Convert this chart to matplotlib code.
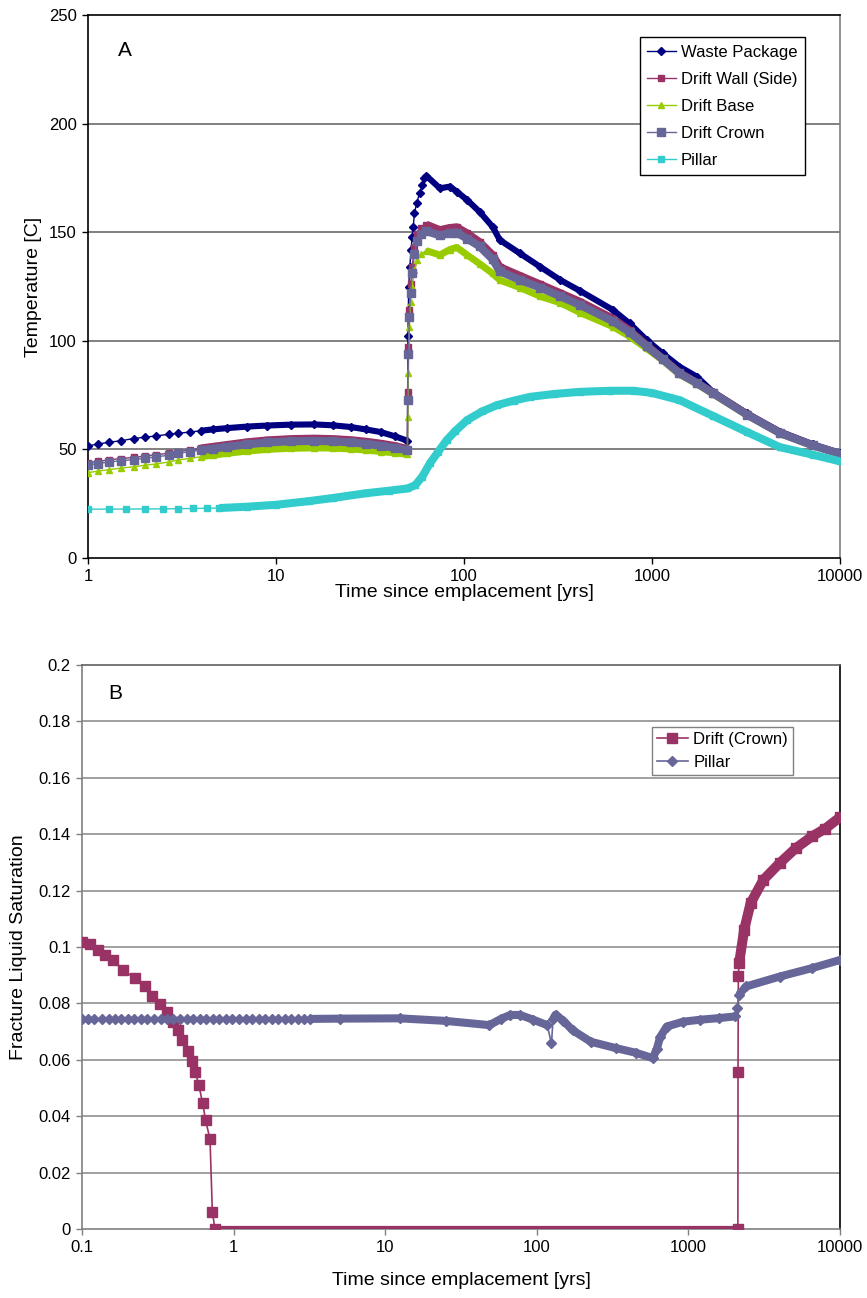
import numpy as np
import matplotlib
matplotlib.use('Agg')
import matplotlib.pyplot as plt
from matplotlib.ticker import FixedLocator, NullLocator

plt.rcParams['font.family'] = ['Liberation Sans', 'DejaVu Sans']

# ---------------- Panel A data ----------------
tA_early = [1, 1.13, 1.3, 1.5, 1.75, 2, 2.3, 2.7, 3, 3.5, 4, 4.6, 5.5, 7, 9, 12, 16, 20, 25, 30, 36, 43, 50]
wp_early = [51.6, 52.5, 53.3, 54.0, 55.0, 55.6, 56.2, 57.0, 57.4, 58.0, 58.6, 59.2, 59.8, 60.5, 61.0, 61.4, 61.5, 61.1, 60.3, 59.2, 58.0, 56.0, 54.0]
wall_early = [43.8, 44.5, 45.2, 45.8, 46.3, 46.9, 47.5, 48.3, 49.0, 49.8, 50.5, 51.2, 52.1, 53.3, 54.2, 54.8, 55.0, 54.8, 54.3, 53.6, 52.7, 51.6, 50.2]
base_early = [39.3, 40.0, 40.7, 41.4, 42.0, 42.7, 43.3, 44.2, 45.1, 45.9, 46.6, 47.3, 48.2, 49.2, 50.0, 50.5, 50.7, 50.6, 50.2, 49.7, 49.0, 48.4, 47.7]
crown_early = [42.8, 43.5, 44.2, 44.8, 45.3, 45.9, 46.5, 47.4, 48.2, 49.0, 49.7, 50.3, 51.2, 52.3, 53.2, 53.7, 53.9, 53.7, 53.2, 52.6, 51.7, 50.7, 49.5]

tA_jump_wp = [50.3, 50.8, 51.5, 52.3, 53, 53.7, 54.5, 56, 58, 60, 61.5]
wp_jump = [102, 125, 134, 142, 148, 152.5, 158.7, 163.3, 168, 171.7, 174.8]
tA_jump = [50.2, 50.6, 51.2, 52, 53, 54.5, 56.5, 59]
wall_jump = [76.3, 97, 114, 126, 134, 143, 149, 152]
base_jump = [65, 85, 106.5, 118, 125, 132.6, 137, 140]
crown_jump = [72.7, 94, 111, 122, 131, 140, 146, 149]

tA_late = [63, 74.5, 84, 91.5, 104, 121, 142, 155, 198, 254, 325, 414, 620, 760, 935, 1140, 1400, 1730, 2100, 3200, 4800, 7200, 10000]
wp_late = [176.0, 170.2, 171.0, 168.7, 164.8, 159.4, 152.5, 146.4, 140.3, 134.1, 128.0, 123.0, 114.2, 108.0, 100.4, 94.2, 88.1, 83.5, 76.6, 66.6, 58.2, 52.3, 48.3]
wall_late = [153.5, 151.0, 152.0, 152.3, 149.5, 145.5, 139.5, 134.0, 130.0, 126.0, 122.0, 118.0, 110.2, 104.8, 98.0, 91.8, 85.3, 80.7, 76.2, 66.2, 57.6, 51.8, 48.0]
base_late = [141.5, 139.5, 142.0, 143.0, 139.5, 135.5, 131.0, 128.0, 124.5, 120.5, 117.5, 113.0, 106.5, 102.0, 96.5, 91.0, 84.5, 80.2, 75.6, 65.8, 57.3, 51.6, 47.8]
crown_late = [150.5, 148.5, 149.5, 149.8, 147.0, 143.5, 137.5, 132.0, 128.0, 124.5, 120.5, 116.5, 109.0, 104.0, 97.5, 91.5, 85.0, 80.5, 76.0, 66.0, 57.5, 51.8, 48.0]

tA_pillar = [1, 1.3, 1.6, 2, 2.5, 3, 3.6, 4.3, 5, 7, 10, 15, 20, 30, 40, 50, 55, 60, 66, 73, 81, 90, 104, 125, 150, 185, 225, 300, 414, 600, 800, 1000, 1400, 2100, 3200, 4800, 7200, 10000]
pillar_A = [22.5, 22.5, 22.5, 22.6, 22.6, 22.7, 22.8, 22.9, 23.0, 23.6, 24.5, 26.2, 27.6, 29.8, 31.0, 32.0, 33.5, 37.5, 43.7, 49.0, 54.3, 58.5, 63.5, 67.5, 70.4, 72.5, 74.2, 75.5, 76.5, 77.0, 77.0, 76.0, 72.7, 65.5, 58.0, 51.0, 47.5, 44.5]

# ---------------- Panel B data ----------------
tB_crown = [0.1, 0.113, 0.128, 0.142, 0.161, 0.187, 0.224, 0.26, 0.288, 0.326, 0.362, 0.4, 0.43, 0.46, 0.5, 0.53, 0.56, 0.59, 0.625, 0.654, 0.699, 0.724, 0.754,
            1, 3, 10, 30, 100, 300, 1000, 2120,
            2125, 2135, 2160, 2330, 2570, 3120, 3990, 5100, 6530, 8000, 10000]
crown_B = [0.1019, 0.1011, 0.0989, 0.0972, 0.0954, 0.0918, 0.0889, 0.0860, 0.0826, 0.0798, 0.0771, 0.0735, 0.0705, 0.0670, 0.0630, 0.0595, 0.0555, 0.0510, 0.0446, 0.0385, 0.0318, 0.0061, 0.0,
           0.0, 0.0, 0.0, 0.0, 0.0, 0.0, 0.0, 0.0,
           0.0558, 0.0897, 0.0942, 0.1060, 0.1155, 0.1238, 0.1297, 0.1350, 0.1392, 0.1420, 0.1460]

tB_pillar = [0.1, 0.11, 0.12, 0.135, 0.15, 0.165, 0.18, 0.2, 0.22, 0.245, 0.27, 0.3, 0.33, 0.365, 0.4, 0.44, 0.49, 0.54, 0.6, 0.66, 0.73, 0.8, 0.89, 0.98,
             1.08, 1.2, 1.32, 1.46, 1.6, 1.78, 1.96, 2.17, 2.4, 2.65, 2.9, 3.2,
             5, 12.5, 25, 48.7, 58, 66.7, 77.5, 95, 117, 125, 128, 133, 150, 172, 227, 335, 450, 583, 620, 650, 720, 920, 1190, 1600, 2040,
             2100, 2150, 2400, 3990, 6530, 10000]
pillar_B = [0.0745, 0.0745, 0.0745, 0.0745, 0.0745, 0.0745, 0.0745, 0.0745, 0.0745, 0.0745, 0.0745, 0.0745, 0.0745, 0.0745, 0.0745, 0.0745, 0.0745, 0.0745, 0.0745, 0.0745, 0.0745, 0.0745, 0.0745, 0.0745,
            0.0745, 0.0745, 0.0745, 0.0745, 0.0745, 0.0745, 0.0745, 0.0745, 0.0745, 0.0745, 0.0745, 0.0745,
            0.0746, 0.0747, 0.0738, 0.0723, 0.0745, 0.0759, 0.0759, 0.0742, 0.0723, 0.0658, 0.0745, 0.0760, 0.0738, 0.0705, 0.0664, 0.0641, 0.0625, 0.0606, 0.0640, 0.0680, 0.0718, 0.0735, 0.0742, 0.0748, 0.0754,
            0.0784, 0.0830, 0.0860, 0.0895, 0.0925, 0.0954]

# colours
C_WP = '#000080'
C_WALL = '#993366'
C_BASE = '#99CC00'
C_CROWN = '#666699'
C_PILLAR = '#33CCCC'

W, H = 867, 1298
fig = plt.figure(figsize=(W / 100, H / 100), dpi=100)

axA = fig.add_axes([88 / W, 1 - 558 / H, 752 / W, 543 / H])
axB = fig.add_axes([82 / W, 1 - 1229 / H, 758 / W, 564 / H])


def band(ax, t, v, lo, hi, color, lw, z):
    t = np.asarray(t, float)
    v = np.asarray(v, float)
    m = (t >= lo) & (t <= hi)
    ax.plot(t[m], v[m], color=color, lw=lw, solid_capstyle='butt', solid_joinstyle='round', zorder=z)


def sparse_marks(t, lo, hi):
    t = np.asarray(t, float)
    return [i for i in range(len(t)) if not (lo < t[i] < hi)]


# ---- Panel A ----
series = [
    ('Waste Package', C_WP, 'D', 4.0, 4.4, wp_early, tA_jump_wp, wp_jump, wp_late),
    ('Drift Wall (Side)', C_WALL, 's', 4.0, 5.6, wall_early, tA_jump, wall_jump, wall_late),
    ('Drift Base', C_BASE, '^', 4.5, 5.0, base_early, tA_jump, base_jump, base_late),
    ('Drift Crown', C_CROWN, 's', 5.2, 5.8, crown_early, tA_jump, crown_jump, crown_late),
]
for i, (lab, col, mk, ms, blw, ve, tj, vj, vl) in enumerate(series):
    z = 3 + i
    t_all = list(tA_early) + list(tj) + list(tA_late)
    v_all = list(ve) + list(vj) + list(vl)
    axA.plot(t_all, v_all, color=col, lw=1.0, marker=mk, ms=ms, mec=col, mfc=col, label=lab, zorder=z)
    band(axA, tA_early, ve, 3.8, 50, col, blw, z)
    band(axA, tA_late, vl, 60, 10000, col, blw, z)

axA.plot(tA_pillar, pillar_A, color=C_PILLAR, lw=1.0, marker='s', ms=5.0, mec=C_PILLAR, mfc=C_PILLAR, label='Pillar', zorder=8)
band(axA, tA_pillar, pillar_A, 4.5, 10000, C_PILLAR, 5.8, 8)

axA.set_xscale('log')
axA.set_xlim(1, 10000)
axA.set_ylim(0, 250)
axA.xaxis.set_major_locator(FixedLocator([1, 10, 100, 1000, 10000]))
axA.xaxis.set_minor_locator(NullLocator())
axA.set_xticklabels(['1', '10', '100', '1000', '10000'])
axA.set_yticks([0, 50, 100, 150, 200, 250])
axA.set_yticklabels(['0', '50', '100', '150', '200', '250'])
for yv in [50, 100, 150, 200]:
    axA.axhline(yv, color='#808080', lw=1.4, zorder=1)
for s in ['left', 'bottom', 'top']:
    axA.spines[s].set_color('black')
    axA.spines[s].set_linewidth(1.2)
axA.spines['right'].set_color('#808080')
axA.spines['right'].set_linewidth(1.2)
axA.tick_params(axis='both', direction='out', length=4, width=1.0, labelsize=12, pad=4, color='black')
axA.set_xlabel('Time since emplacement [yrs]', fontsize=14, labelpad=0)
axA.set_ylabel('Temperature [C]', fontsize=14, labelpad=5)
axA.text(0.049, 0.935, 'A', transform=axA.transAxes, fontsize=15, ha='center', va='center')
legA = axA.legend(loc='upper right', bbox_to_anchor=(0.953, 0.959), fontsize=12, frameon=True, fancybox=False,
                  edgecolor='black', framealpha=1, numpoints=1, handlelength=1.7, handletextpad=0.3,
                  labelspacing=0.72, borderpad=0.45, borderaxespad=0)
legA.get_frame().set_linewidth(1.0)

# ---- Panel B ----
axB.plot(tB_crown, crown_B, color=C_WALL, lw=1.2, marker='s', ms=7.0, mec=C_WALL, mfc=C_WALL, label='Drift (Crown)', zorder=4,
         markevery=sparse_marks(tB_crown, 0.8, 2000))
band(axB, tB_crown, crown_B, 0.754, 2120, C_WALL, 5.2, 4)
band(axB, tB_crown, crown_B, 2160, 10000, C_WALL, 7.2, 4)

axB.plot(tB_pillar, pillar_B, color=C_CROWN, lw=1.2, marker='D', ms=5.0, mec=C_CROWN, mfc=C_CROWN, label='Pillar', zorder=5)
band(axB, tB_pillar, pillar_B, 3.2, 117, C_CROWN, 5.8, 5)
band(axB, tB_pillar, pillar_B, 128, 2040, C_CROWN, 5.8, 5)
band(axB, tB_pillar, pillar_B, 2150, 10000, C_CROWN, 5.8, 5)

axB.set_xscale('log')
axB.set_xlim(0.1, 10000)
axB.set_ylim(0, 0.2)
axB.xaxis.set_major_locator(FixedLocator([0.1, 1, 10, 100, 1000, 10000]))
axB.xaxis.set_minor_locator(NullLocator())
axB.set_xticklabels(['0.1', '1', '10', '100', '1000', '10000'])
yt = [0, 0.02, 0.04, 0.06, 0.08, 0.1, 0.12, 0.14, 0.16, 0.18, 0.2]
axB.set_yticks(yt)
axB.set_yticklabels(['0', '0.02', '0.04', '0.06', '0.08', '0.1', '0.12', '0.14', '0.16', '0.18', '0.2'])
for yv in yt[1:-1]:
    axB.axhline(yv, color='#A0A0A0', lw=1.4, zorder=1)
axB.spines['left'].set_color('#808080')
axB.spines['bottom'].set_color('#808080')
axB.spines['top'].set_color('#606060')
axB.spines['right'].set_color('black')
for s in axB.spines.values():
    s.set_linewidth(1.2)
axB.tick_params(axis='both', direction='out', length=4, width=1.0, labelsize=12, pad=4, color='#808080')
axB.set_xlabel('Time since emplacement [yrs]', fontsize=14, labelpad=12)
axB.set_ylabel('Fracture Liquid Saturation', fontsize=14, labelpad=8)
axB.text(0.0435, 0.95, 'B', transform=axB.transAxes, fontsize=15, ha='center', va='center')
legB = axB.legend(loc='upper right', bbox_to_anchor=(0.938, 0.89), fontsize=12, frameon=True, fancybox=False,
                  edgecolor='#808080', framealpha=1, numpoints=1, handlelength=1.9, handletextpad=0.3,
                  labelspacing=0.45, borderpad=0.3, borderaxespad=0)
legB.get_frame().set_linewidth(1.0)

fig.savefig('out.png', dpi=100)
